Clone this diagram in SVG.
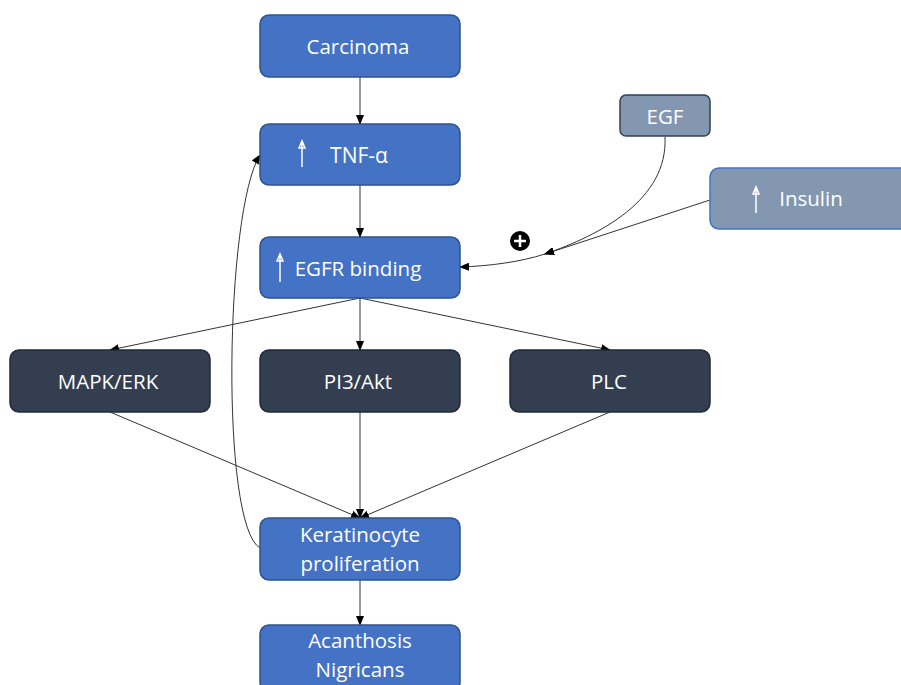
<svg xmlns="http://www.w3.org/2000/svg" width="901" height="685" viewBox="0 0 901 685">
<style>
.blue{fill:#4472C4;stroke:#2F528F;stroke-width:1.5}
.dark{fill:#333F50;stroke:#222A35;stroke-width:1.5}
.grey{fill:#8497B0;stroke:#333F50;stroke-width:1.5}
.grey2{fill:#8497B0;stroke:#4472C4;stroke-width:1.5}
text{font-family:"Open Sans","Noto Sans",sans-serif;fill:#fff;text-anchor:middle;dominant-baseline:central}
.t{font-size:20.5px}
.e{stroke:#333;stroke-width:1;fill:none;marker-end:url(#ah)}
.up{stroke:#fff;stroke-width:1.5;fill:none}
</style>
<defs>
<marker id="ah" markerWidth="10" markerHeight="8" refX="9" refY="4" orient="auto" markerUnits="userSpaceOnUse">
<path d="M0,0 L10,4 L0,8 Z" fill="#000"/>
</marker>
</defs>
<g id="connectors">
<path class="e" d="M360,77 L360,124"/>
<path class="e" d="M360,185 L360,237"/>
<path class="e" d="M360,298 L110,350"/>
<path class="e" d="M360,298 L360,350"/>
<path class="e" d="M360,298 L610,350"/>
<path class="e" d="M110,412 L360,518"/>
<path class="e" d="M360,412 L360,518"/>
<path class="e" d="M610,412 L360,518"/>
<path class="e" d="M360,580 L360,625"/>
<path class="e" d="M260,548 C220,525 225,210 260,155"/>
<path class="e" d="M665,137 C668,200 600,235 545,254"/>
<path class="e" d="M710,200 L545,254"/>
<path class="e" d="M545,254 C520,262 490,266 460,267"/>
<circle cx="520" cy="241" r="10" fill="#000"/>
<path d="M520,235 V247 M514,241 H526" stroke="#fff" stroke-width="2.5"/>
</g>
<g id="carcinoma"><rect class="blue" x="260" y="15" width="200" height="62" rx="9"/><text class="t" x="358" y="46">Carcinoma</text></g>
<g id="tnf"><rect class="blue" x="260" y="124" width="200" height="61" rx="9"/><path class="up" d="M302,167 V143 M299,148 L302,141 L305,148 Z"/><text x="359" y="155" style="font-size:21px">TNF-α</text></g>
<g id="egfr"><rect class="blue" x="260" y="237" width="200" height="61" rx="9"/><path class="up" d="M280,282 V256 M277,261 L280,254 L283,261 Z"/><text class="t" x="358" y="268">EGFR binding</text></g>
<g id="egf"><rect class="grey" x="620" y="95" width="90" height="41" rx="6"/><text class="t" x="665" y="116">EGF</text></g>
<g id="insulin"><rect class="grey2" x="710" y="168" width="200" height="61" rx="9"/><path class="up" d="M756,213 V189 M753,194 L756,187 L759,194 Z"/><text class="t" x="811" y="198">Insulin</text></g>
<g id="mapk"><rect class="dark" x="10" y="350" width="200" height="62" rx="9"/><text class="t" x="108" y="381">MAPK/ERK</text></g>
<g id="pi3"><rect class="dark" x="260" y="350" width="200" height="62" rx="9"/><text class="t" x="358" y="381">PI3/Akt</text></g>
<g id="plc"><rect class="dark" x="510" y="350" width="200" height="62" rx="9"/><text class="t" x="609" y="381">PLC</text></g>
<g id="kerat"><rect class="blue" x="260" y="518" width="200" height="62" rx="9"/><text class="t" x="360" y="534">Keratinocyte</text><text class="t" x="360" y="563">proliferation</text></g>
<g id="acan"><rect class="blue" x="260" y="625" width="200" height="66" rx="9"/><text class="t" x="360" y="640">Acanthosis</text><text class="t" x="360" y="669">Nigricans</text></g>
</svg>
